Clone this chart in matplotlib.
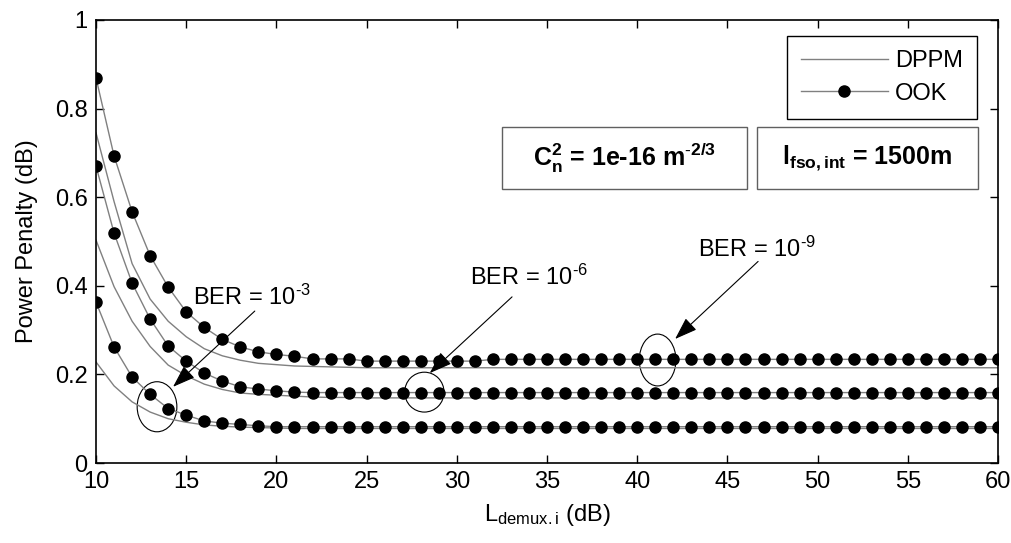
import numpy as np
import matplotlib
matplotlib.use('Agg')
import matplotlib.pyplot as plt
from matplotlib.lines import Line2D
from matplotlib.patches import Ellipse, Rectangle

plt.rcParams.update({
    'font.family': ['Liberation Sans', 'DejaVu Sans'],
    'font.size': 17,
    'mathtext.fontset': 'custom',
    'mathtext.rm': 'Liberation Sans',
    'mathtext.it': 'Liberation Sans',
    'mathtext.bf': 'Liberation Sans:bold',
    'axes.linewidth': 1.2,
    'axes.unicode_minus': False,
})

# OOK: one point per dB, 10..60
x_ook = list(range(10, 61))
ook_ber9 = ([0.869, 0.693, 0.567, 0.468, 0.397, 0.341, 0.306, 0.279, 0.262, 0.251,
             0.245, 0.241, 0.235, 0.235, 0.235]
            + [0.230] * 7 + [0.234] * 29)
ook_ber6 = ([0.670, 0.519, 0.406, 0.325, 0.264, 0.230, 0.203, 0.185, 0.172, 0.167,
             0.163, 0.160] + [0.159] * 39)
ook_ber3 = ([0.363, 0.262, 0.194, 0.155, 0.123, 0.108, 0.095, 0.090, 0.087, 0.084]
            + [0.082] * 41)

# DPPM: line vertices
x_dppm = [10, 11, 12, 13, 14, 15, 16, 17, 18, 19, 20, 21, 22, 23, 24, 25, 30, 40, 50, 60]
dppm_ber9 = [0.745, 0.590, 0.450, 0.370, 0.320, 0.285, 0.258, 0.242, 0.232, 0.225,
             0.222, 0.219, 0.218, 0.217, 0.216, 0.215, 0.215, 0.215, 0.215, 0.215]
dppm_ber6 = [0.503, 0.398, 0.320, 0.263, 0.221, 0.197, 0.178, 0.166, 0.158, 0.155,
             0.153, 0.151, 0.149, 0.148, 0.148, 0.147, 0.147, 0.147, 0.147, 0.147]
dppm_ber3 = [0.228, 0.174, 0.138, 0.115, 0.100, 0.092, 0.086, 0.083, 0.081, 0.080,
             0.079, 0.078, 0.078, 0.078, 0.078, 0.078, 0.078, 0.078, 0.078, 0.078]

line_c = '#808080'

fig = plt.figure(figsize=(10.12, 5.43), dpi=100)
ax = fig.add_axes([0.0949, 0.1473, 0.8913, 0.8159])

for d in (dppm_ber9, dppm_ber6, dppm_ber3):
    ax.plot(x_dppm, d, color=line_c, lw=1.0)
for o in (ook_ber9, ook_ber6, ook_ber3):
    ax.plot(x_ook, o, color=line_c, lw=1.0, marker='o', ms=8,
            mfc='black', mec='black')

ax.set_xlim(10, 60)
ax.set_ylim(0, 1)
ax.set_xticks(range(10, 61, 5))
ax.set_yticks([0, 0.2, 0.4, 0.6, 0.8, 1])
ax.set_yticklabels(['0', '0.2', '0.4', '0.6', '0.8', '1'])
ax.tick_params(direction='in', top=True, right=True, length=6, width=1,
               labelsize=17, pad=6)
ax.set_xlabel(r'L$_{\mathrm{demux.i}}$ (dB)', fontsize=17, labelpad=6)
ax.set_ylabel('Power Penalty (dB)', fontsize=17, labelpad=12)

# legend
handles = [Line2D([], [], color=line_c, lw=1.0),
           Line2D([], [], color=line_c, lw=1.0, marker='o', ms=8,
                  mfc='black', mec='black')]
leg = ax.legend(handles, ['DPPM', 'OOK'], loc='upper right',
                bbox_to_anchor=(0.977, 0.964), fancybox=False,
                edgecolor='black', framealpha=1, handlelength=3.7,
                handletextpad=0.3, borderpad=0.6, labelspacing=0.45,
                borderaxespad=0, fontsize=17)
leg.get_frame().set_linewidth(1.0)

# parameter boxes
for (bx, bw) in [(0.450, 0.2716), (0.7328, 0.245)]:
    ax.add_patch(Rectangle((bx, 0.6185), bw, 0.140, transform=ax.transAxes,
                           fill=False, edgecolor='#606060', lw=1.0))
ax.text(0.450 + 0.2716 / 2, 0.6885,
        r'$\mathbf{C_n^2}$ = 1e-16 m$^{\mathbf{\text{-}2/3}}$',
        transform=ax.transAxes, ha='center', va='center',
        fontsize=18, fontweight='bold')
ax.text(0.7328 + 0.245 / 2, 0.6885,
        r'l$_{\mathbf{fso,int}}$ = 1500m',
        transform=ax.transAxes, ha='center', va='center',
        fontsize=18, fontweight='bold')

# BER annotations
arrow = dict(arrowstyle='-|>,head_length=1.0,head_width=0.35', color='black',
             lw=0.8, shrinkA=0, shrinkB=0, mutation_scale=14)
ax.text(15.4, 0.357, r'BER = 10$^{\text{-}3}$', fontsize=17)
ax.annotate('', xy=(14.27, 0.172), xytext=(18.8, 0.343), arrowprops=arrow)
ax.add_patch(Ellipse((13.38, 0.127), 2.2, 0.113, fill=False, lw=0.8,
                     edgecolor='black'))

ax.text(30.73, 0.402, r'BER = 10$^{\text{-}6}$', fontsize=17)
ax.annotate('', xy=(28.5, 0.203), xytext=(33.06, 0.375), arrowprops=arrow)
ax.add_patch(Ellipse((28.2, 0.160), 2.18, 0.09, fill=False, lw=0.8,
                     edgecolor='black'))

ax.text(43.37, 0.465, r'BER = 10$^{\text{-}9}$', fontsize=17)
ax.annotate('', xy=(42.1, 0.280), xytext=(46.7, 0.455), arrowprops=arrow)
ax.add_patch(Ellipse((41.13, 0.2325), 2.03, 0.117, fill=False, lw=0.8,
                     edgecolor='black'))

fig.savefig('out.png', dpi=100)
